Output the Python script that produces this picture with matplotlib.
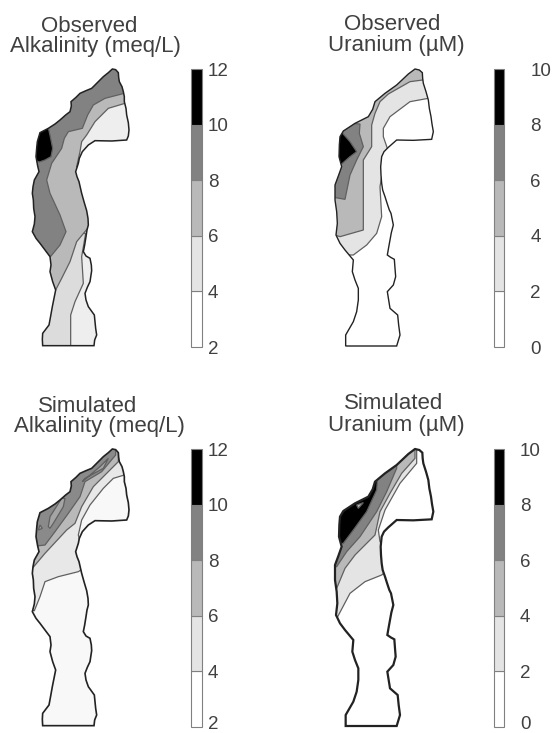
import matplotlib
matplotlib.use('Agg')
import matplotlib.pyplot as plt
from matplotlib.patches import Polygon
from matplotlib.transforms import ScaledTranslation

plt.rcParams['font.family'] = ['Liberation Sans', 'DejaVu Sans']

# map outlines in 3x pixel units
outline_left = [(337,207),(347,209),(355,218),(356,232),(358,245),(366,260),(370,275),(373,290),(373,305),(378,325),(380,345),(385,368),(387,390),(385,408),(380,420),
    (335,423),(285,422),(265,435),(247,455),(238,475),(235,490),(227,515),(231,530),(237,545),(245,580),(252,605),(260,632),(264,655),(265,675),(261,690),(258,710),
    (254,735),(250,755),(258,768),(270,775),(274,795),(275,812),(270,845),(262,862),(255,880),(258,900),(265,920),(283,945),(285,965),(287,985),(290,1005),(284,1020),(282,1037),
    (128,1037),(127,1018),(128,1000),(147,975),(152,948),(157,920),(162,895),(167,870),(158,845),(150,815),(153,795),(150,770),(135,750),(120,730),(108,715),(97,695),
    (103,672),(105,650),(101,625),(100,600),(97,580),(99,560),(103,540),(117,515),(113,498),(108,470),(110,445),(112,425),(120,398),(145,385),(165,372),(180,360),(197,345),
    (210,335),(214,318),(213,305),(228,292),(240,280),(258,272),(275,265),(292,248),(310,230),(325,218)]
outline_right = [(345,207),(358,210),(367,218),(368,235),(370,250),(378,275),(385,300),(388,325),(393,350),(396,372),(400,395),(395,418),(340,421),(290,420),(265,442),
    (252,455),(245,470),(242,500),(243,525),(245,550),(248,570),(255,590),(262,612),(268,630),(273,640),(280,675),(274,698),(270,720),(266,742),(262,765),(272,772),(283,778),
    (285,805),(287,830),(280,855),(262,875),(266,900),(270,925),(293,945),(296,975),(300,1005),(290,1038),(137,1038),(137,1005),(160,965),(170,935),(175,900),(175,865),(165,840),
    (157,815),(160,780),(135,750),(120,730),(108,705),(112,670),(110,635),(105,600),(105,555),(115,528),(125,500),(117,470),(118,435),(120,410),(130,393),(165,370),(205,350),
    (218,328),(225,305),(255,280),(290,255),(325,222)]

# contour zones, lightest first
obs_alk_zones = [
    [(212,1045),(212,945),(225,905),(250,850),(245,770),(257,700),(100,700),(100,1045)],
    [(375,310),(325,325),(285,365),(260,405),(245,425),(240,455),(230,500),(300,600),(263,685),(230,725),(210,785),(185,835),(167,870),(100,870),(50,600),(100,200),(400,200)],
    [(373,280),(315,295),(280,315),(263,345),(247,385),(205,395),(193,415),(185,445),(155,490),(140,540),(150,580),(180,645),(198,695),(180,735),(153,768),(60,768),(60,200),(400,200),(400,280)],
    [(120,396),(145,383),(152,415),(158,445),(153,470),(135,480),(118,486),(100,480),(100,400)],
]
obs_u_zones = [
    [(385,295),(330,305),(270,350),(250,385),(250,410),(262,445),(320,480),(245,530),(240,560),(245,650),(230,700),(200,735),(160,765),(60,765),(60,200),(400,200),(400,295)],
    [(368,240),(330,245),(300,262),(265,282),(240,305),(225,340),(215,375),(215,440),(190,480),(190,690),(120,710),(90,700),(90,200),(370,200)],
    [(180,372),(178,400),(190,440),(170,480),(150,525),(135,598),(90,590),(90,380),(150,370)],
    [(128,400),(150,425),(170,455),(150,470),(125,492),(110,490),(110,400)],
]
sim_alk_zones = [
    [(373,285),(340,295),(310,325),(270,375),(245,420),(235,465),(240,485),(300,530),(235,575),(175,590),(135,605),(120,650),(103,692),(60,690),(60,200),(400,200),(400,285)],
    [(355,245),(320,280),(280,320),(245,380),(225,430),(200,450),(135,520),(97,565),(60,565),(60,200),(355,200)],
    [(347,225),(305,275),(255,305),(240,350),(205,400),(165,455),(135,495),(110,498),(100,500),(100,200),(347,200)],
    [(145,440),(150,410),(185,355),(195,355),(190,380),(160,430),(150,445)],
    [(247,305),(300,260),(325,235),(310,265),(255,295)],
    [(120,435),(127,445),(115,450)],
]
sim_u_zones = [
    [(350,220),(350,250),(300,310),(255,390),(235,450),(240,485),(300,540),(245,585),(195,605),(150,640),(113,710),(60,705),(60,200),(350,200)],
    [(345,235),(305,280),(270,340),(240,395),(225,465),(165,525),(135,565),(110,625),(60,625),(60,200),(345,200)],
    [(290,265),(260,335),(230,395),(180,470),(140,515),(110,560),(60,560),(60,200),(290,200)],
    [(232,305),(230,330),(200,395),(160,450),(130,490),(100,495),(100,380),(160,365),(225,300)],
    [(170,375),(190,368),(175,385)],
]

alk_levels = [2, 4, 6, 8, 10, 12]
u_levels = [0, 2, 4, 6, 8, 10]
bar_colors = ['#ffffff', '#e4e4e4', '#b9b9b9', '#828282', '#000000']

W, H = 553, 733
fig = plt.figure(figsize=(W / 100, H / 100), dpi=100)


def add_px_axes(x, y, w, h):
    return fig.add_axes([x / W, 1 - (y + h) / H, w / W, h / H])


def draw_map(x0, y0, outline, zones, base, colors, edge_lw, titles):
    ax = add_px_axes(x0, y0, 253, 353)
    ax.set_xlim(0, 759)
    ax.set_ylim(1059, 0)
    ax.axis('off')
    ax.patch.set_alpha(0)
    shape = Polygon(outline, closed=True, facecolor=base, edgecolor='none', zorder=1)
    ax.add_patch(shape)
    for zone, c in zip(zones, colors):
        p = Polygon(zone, closed=True, facecolor=c, edgecolor='#606060', lw=0.9, zorder=2)
        ax.add_patch(p)
        p.set_clip_path(shape)
    ax.add_patch(Polygon(outline, closed=True, fill=False, edgecolor='#222222', lw=edge_lw, zorder=3))
    for tx, ty, s in titles:
        ax.text(tx, ty, s, ha='center', va='center', fontsize=16, color='#404040')


def draw_bar(x0, y0, levels, pad, low_shift=0):
    ax = add_px_axes(x0, y0, 10.5, 278)
    for i in range(5):
        ax.bar(0, levels[i + 1] - levels[i], bottom=levels[i], width=1, color=bar_colors[i],
               edgecolor='#808080', lw=0.8, clip_on=False)
    ax.set_xlim(-0.5, 0.5)
    ax.set_ylim(levels[0], levels[-1])
    ax.set_xticks([])
    ax.set_yticks(levels)
    ax.yaxis.tick_right()
    ax.tick_params(axis='y', length=0, pad=pad, labelsize=13.5, labelcolor='#404040')
    for s in ax.spines.values():
        s.set_visible(False)
    if low_shift:
        low = ax.get_yticklabels()[0]
        low.set_transform(low.get_transform() + ScaledTranslation(0, low_shift / 72, fig.dpi_scale_trans))


draw_map(0, 0, outline_left, obs_alk_zones, '#eeeeee', ['#dcdcdc', '#b9b9b9', '#828282', '#000000'], 1.1,
         [(268, 78, 'Observed'), (285, 140, 'Alkalinity (meq/L)')])
draw_map(300, 0, outline_right, obs_u_zones, '#ffffff', ['#e4e4e4', '#b9b9b9', '#828282', '#000000'], 1.0,
         [(278, 72, 'Observed'), (288, 138, 'Uranium (µM)')])
draw_map(0, 380, outline_left, sim_alk_zones, '#f8f8f8', ['#e8e8e8', '#b9b9b9', '#8a8a8a', '#a5a5a5', '#a5a5a5', '#a5a5a5'], 1.2,
         [(262, 80, 'Simulated'), (298, 140, 'Alkalinity (meq/L)')])
draw_map(300, 380, outline_right, sim_u_zones, '#ffffff', ['#e4e4e4', '#b9b9b9', '#828282', '#000000', '#b9b9b9'], 1.6,
         [(280, 70, 'Simulated'), (288, 138, 'Uranium (µM)')])

draw_bar(191, 69, alk_levels, 4.5)
draw_bar(493.5, 69, u_levels, 19)
draw_bar(191, 449, alk_levels, 4.5, low_shift=3)
draw_bar(493.5, 449, u_levels, 11.5, low_shift=3)

fig.savefig('out.png', dpi=100)
